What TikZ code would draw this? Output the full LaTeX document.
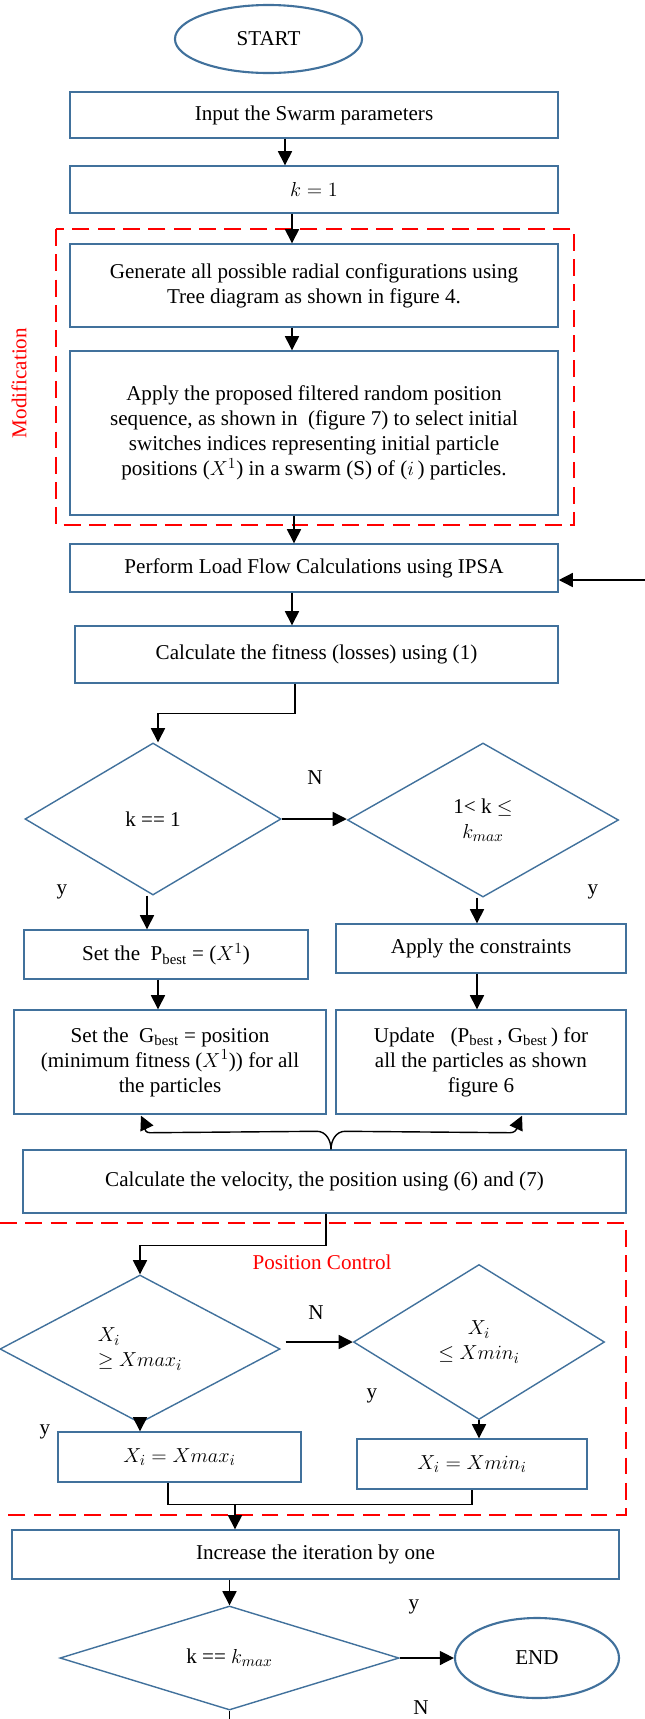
\documentclass[tikz,border=0pt]{standalone}
\usepackage{fontspec}
\setmainfont{Liberation Serif}
\usetikzlibrary{arrows.meta, positioning, shapes, calc}
\definecolor{flowblue}{RGB}{65,113,156}

\begin{document}
\begin{tikzpicture}[x=0.025cm, y=-0.025cm,
  every node/.style={font=\fontsize{15}{17.8}\selectfont},
  box/.style={draw=flowblue, line width=1pt, align=center, inner sep=2pt},
  term/.style={ellipse, draw=flowblue, line width=1.5pt},
  decision/.style={diamond, draw=flowblue, line width=1pt, align=center, inner sep=0pt},
  arr/.style={-{Triangle[length=10pt,width=10pt]}, line width=1pt},
  link/.style={line width=1pt},
  dashbox/.style={draw=red, line width=2pt, dash pattern=on 12pt off 6pt},
  tag/.style={inner sep=0pt}]

\useasboundingbox (0,0) rectangle (645,1719);

% red frames
\draw[dashbox] (56,229) rectangle (574,525);
\draw[dashbox] (0,1223) -- (626,1223) -- (626,1515) -- (0,1515);
\node[tag, red, rotate=90] (modlbl) at (19,383) {Modification};
\node[tag, red] (poslbl) at (322,1262) {Position Control};

% main column
\node[term, minimum width=4.675cm, minimum height=1.7cm] (start) at (268.5,39) {START};
\node[box, minimum width=12.2cm, minimum height=1.15cm] (input) at (314,115) {Input the Swarm parameters};
\node[box, minimum width=12.2cm, minimum height=1.175cm] (kone) at (314,189.5) {$k = 1$};
\node[box, minimum width=12.2cm, minimum height=2.075cm] (gen) at (314,285.5)
  {Generate all possible radial configurations using\\Tree diagram as shown in figure 4.};
\node[box, minimum width=12.2cm, minimum height=4.1cm] (filt) at (314,433)
  {Apply the proposed filtered random position\\sequence, as shown in\ \ (figure 7) to select initial\\switches indices representing initial particle\\positions ($X^1$) in a swarm (S) of ($i$\,) particles.};
\node[box, minimum width=12.2cm, minimum height=1.2cm] (ipsa) at (314,568) {Perform Load Flow Calculations using IPSA};
\node[box, minimum width=12.075cm, minimum height=1.425cm] (fit) at (316.5,654.5) {Calculate the fitness (losses) using (1)};

% first decision
\node[decision, minimum width=6.4cm, minimum height=3.8cm] (kfirst) at (153,819) {k == 1};
\node[decision, minimum width=6.775cm, minimum height=3.85cm] (krange) at (483,820) {1< k $\leq$\\$k_{max}$};
\node[box, minimum width=7.1cm, minimum height=1.225cm] (pset) at (166,954.5) {Set the\ \ P\textsubscript{best} = ($X^1$)};
\node[box, minimum width=7.25cm, minimum height=1.225cm] (cons) at (481,948.5) {Apply the constraints};
\node[box, minimum width=7.8cm, minimum height=2.6cm] (gset) at (170,1062)
  {Set the\ \ G\textsubscript{best} = position\\(minimum fitness ($X^1$)) for all\\the particles};
\node[box, minimum width=7.25cm, minimum height=2.6cm] (upd) at (481,1062)
  {Update\ \ \ (P\textsubscript{best}\,, G\textsubscript{best}\,) for\\all the particles as shown\\figure 6};
\node[box, minimum width=15.075cm, minimum height=1.575cm] (vel) at (324.5,1181.5)
  {Calculate the velocity, the position using (6) and (7)};

% position control
\node[decision, minimum width=7cm, minimum height=3.7cm, align=left] (xhigh) at (140,1349) {$X_i$\\$\geq Xmax_i$};
\node[decision, minimum width=6.275cm, minimum height=3.875cm] (xlow) at (479,1342) {$X_i$\\$\leq Xmin_i$};
\node[box, minimum width=6.075cm, minimum height=1.25cm] (xmax) at (179.5,1457) {$X_i = Xmax_i$};
\node[box, minimum width=5.75cm, minimum height=1.25cm] (xmin) at (472,1464) {$X_i = Xmin_i$};
\node[box, minimum width=15.175cm, minimum height=1.225cm] (inc) at (315.5,1554.5) {Increase the iteration by one};
\node[decision, minimum width=8.475cm, minimum height=2.45cm] (kend) at (229.5,1658) {k == $k_{max}$};
\node[term, minimum width=4.1cm, minimum height=2cm] (stop) at (537,1658) {END};

% branch labels
\node[tag] (nA) at (315,778) {N};
\node[tag] (yA) at (62,892) {y};
\node[tag] (yB) at (593,892) {y};
\node[tag] (nB) at (316,1313) {N};
\node[tag] (yC) at (372,1396) {y};
\node[tag] (yD) at (45,1432) {y};
\node[tag] (yE) at (414,1607) {y};
\node[tag] (nC) at (421,1708) {N};

\coordinate (loopin) at (645,580);
\coordinate (loopout) at (229.5,1719);
\coordinate (mrg) at (235,1504);

% connectors
\draw[arr] ($(input.south)+(-29,0)$) coordinate (c1) -- (c1 |- kone.north);
\draw[arr] ($(kone.south)+(-22,0)$) coordinate (c2) -- (c2 |- gen.north);
\draw[arr] ($(gen.south)+(-22,0)$) coordinate (c3) -- (c3 |- filt.north);
\draw[arr] ($(filt.south)+(-20,0)$) coordinate (c4) -- (c4 |- ipsa.north);
\draw[arr] ($(ipsa.south)+(-22,0)$) coordinate (c5) -- (c5 |- fit.north);
\draw[arr] (loopin) -- (loopin -| ipsa.east);
\draw[arr] ($(fit.south)+(-21.5,0)$) -- ++(0,30) -| ($(kfirst.north)+(5,0)$);
\draw[arr] (kfirst.east) -- (kfirst.east -| krange.west);
\draw[arr] ($(kfirst.south)+(-6,0)$) coordinate (c6) -- (c6 |- pset.north);
\draw[arr] ($(pset.south)+(-8,0)$) coordinate (c7) -- (c7 |- gset.north);
\draw[arr] ($(krange.south)+(-6,0)$) coordinate (c8) -- (c8 |- cons.north);
\draw[arr] ($(cons.south)+(-4,0)$) coordinate (c9) -- (c9 |- upd.north);
\draw[arr] ($(vel.north)+(6.5,0)$) to[out=90,in=0] ++(-14,-18) -- ($(gset.south)+(-20,18)$)
  to[out=180,in=-65] ($(gset.south)+(-29,1)$);
\draw[arr] ($(vel.north)+(6.5,0)$) to[out=90,in=180] ++(14,-18) -- ($(upd.south)+(29,18)$)
  to[out=0,in=-115] ($(upd.south)+(41,1)$);
\draw[arr] ($(vel.south)+(1.5,0)$) -- ++(0,32) -| (xhigh.north);
\draw[arr] ($(xhigh.east)+(5,-7)$) coordinate (c10) -- (c10 -| xlow.west);
\draw[arr] (xhigh.south) -- (xhigh.south |- xmax.north);
\draw[arr] (xlow.south) -- (xlow.south |- xmin.north);
\draw[link] ($(xmax.south)+(-11.5,0)$) -- ++(0,22) -| (xmin.south);
\draw[arr] (mrg) -- (mrg |- inc.north);
\draw[arr] (kend.north |- inc.south) -- (kend.north);
\draw[arr] (kend.east) -- (stop.west);
\draw[link] (kend.south) -- (loopout);
\end{tikzpicture}
\end{document}
